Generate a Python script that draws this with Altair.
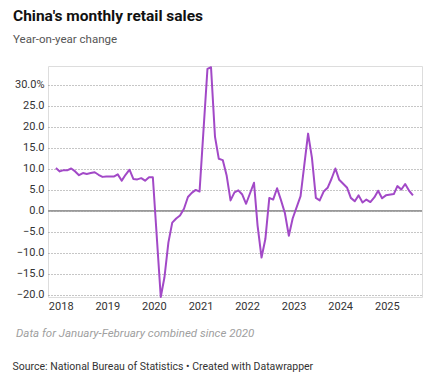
import altair as alt
import pandas as pd

# Monthly dates (first of month). Before 2020 January and February shown separately;
# from 2020 onward a single January-February combined point (placed at February).
months = [
    "2017-11", "2017-12",
    "2018-01", "2018-02", "2018-03", "2018-04", "2018-05", "2018-06",
    "2018-07", "2018-08", "2018-09", "2018-10", "2018-11", "2018-12",
    "2019-01", "2019-02", "2019-03", "2019-04", "2019-05", "2019-06",
    "2019-07", "2019-08", "2019-09", "2019-10", "2019-11", "2019-12",
    "2020-02", "2020-03", "2020-04", "2020-05", "2020-06",
    "2020-07", "2020-08", "2020-09", "2020-10", "2020-11", "2020-12",
    "2021-02", "2021-03", "2021-04", "2021-05", "2021-06",
    "2021-07", "2021-08", "2021-09", "2021-10", "2021-11", "2021-12",
    "2022-02", "2022-03", "2022-04", "2022-05", "2022-06",
    "2022-07", "2022-08", "2022-09", "2022-10", "2022-11", "2022-12",
    "2023-02", "2023-03", "2023-04", "2023-05", "2023-06",
    "2023-07", "2023-08", "2023-09", "2023-10", "2023-11", "2023-12",
    "2024-02", "2024-03", "2024-04", "2024-05", "2024-06",
    "2024-07", "2024-08", "2024-09", "2024-10", "2024-11", "2024-12",
    "2025-02", "2025-03", "2025-04", "2025-05", "2025-06", "2025-07",
]
values = [
    10.2, 9.4,
    9.7, 9.7, 10.1, 9.4, 8.5, 9.0, 8.8, 9.0, 9.2, 8.6, 8.1, 8.2,
    8.2, 8.2, 8.7, 7.2, 8.6, 9.8, 7.6, 7.5, 7.8, 7.2, 8.0, 8.0,
    -20.5, -15.8, -7.5, -2.8, -1.8, -1.1, 0.5, 3.3, 4.3, 5.0, 4.6,
    33.8, 34.2, 17.7, 12.4, 12.1, 8.5, 2.5, 4.4, 4.9, 3.9, 1.7,
    6.7, -3.5, -11.1, -6.7, 3.1, 2.7, 5.4, 2.5, -0.5, -5.9, -1.8,
    3.5, 10.6, 18.4, 12.7, 3.1, 2.5, 4.6, 5.5, 7.6, 10.1, 7.4,
    5.5, 3.1, 2.3, 3.7, 2.0, 2.7, 2.1, 3.2, 4.8, 3.0, 3.7,
    4.0, 5.9, 5.1, 6.4, 4.8, 3.7,
]
y_ticks = [-20, -15, -10, -5, 0, 5, 10, 15, 20, 25, 30]

title_text = "China's monthly retail sales"
subtitle_text = "Year-on-year change"
note_text = "Data for January-February combined since 2020"
source_text = "Source: National Bureau of Statistics • Created with Datawrapper"

df = pd.DataFrame({"date": pd.to_datetime([m + "-01" for m in months]), "value": values})

FONT = "Roboto"
W, H = 374, 231

x_scale = alt.Scale(domain=[pd.Timestamp("2017-08-31").isoformat(), pd.Timestamp("2025-09-10").isoformat()])
y_scale = alt.Scale(domain=[-20.5, 34.5], nice=False, zero=False)

y_axis = alt.Axis(
    values=y_ticks, grid=True, gridDash=[1, 2], gridColor="#8c8c8c", gridWidth=1,
    domain=False, ticks=False, labelPadding=4, labelFontSize=11,
    labelColor="#333333", labelFont=FONT, title=None,
    labelOverlap=False, labelFlush=False,
    labelExpr="datum.value == 30 ? '30.0%' : format(datum.value, '.1f')",
)

line = alt.Chart(df).mark_line(color="#a249c7", strokeWidth=2, strokeJoin="round").encode(
    x=alt.X(
        "date:T",
        scale=x_scale,
        axis=alt.Axis(
            format="%Y", tickCount={"interval": "year", "step": 1}, grid=False, domain=False,
            ticks=False, labelPadding=3, labelOffset=-3, labelFontSize=11, labelColor="#333333",
            labelFont=FONT, title=None, labelOverlap=False, labelFlush=False,
        ),
    ),
    y=alt.Y("value:Q", scale=y_scale, axis=y_axis),
)

zero = alt.Chart(pd.DataFrame({"value": [0.0]})).mark_rule(color="#999999", strokeWidth=1.6).encode(
    y=alt.Y("value:Q", scale=y_scale, axis=y_axis)
)

def label(text, x, y, size, color, weight="normal", style="normal"):
    return alt.Chart(alt.Data(values=[{}])).mark_text(
        text=text, align="left", baseline="alphabetic", font=FONT, fontSize=size,
        color=color, fontWeight=weight, fontStyle=style,
    ).encode(x=alt.value(x), y=alt.value(y))

title = label(title_text, -35, -45, 15.5, "#111111", weight="bold")
subtitle = label(subtitle_text, -35, -23, 11.5, "#555555")
note = label(note_text, -32, 271, 11.5, "#a0a0a0", style="italic")
source = label(source_text, -35.5, 304, 10.5, "#333333")

chart = alt.layer(zero, line, title, subtitle, note, source).properties(
    width=W, height=H,
    autosize=alt.AutoSizeParams(type="none"),
    padding={"left": 40, "top": 58, "right": 6, "bottom": 80},
).configure_view(strokeWidth=0).configure(background="white")

chart.save("out.html", embed_options={"renderer": "svg", "actions": False})
